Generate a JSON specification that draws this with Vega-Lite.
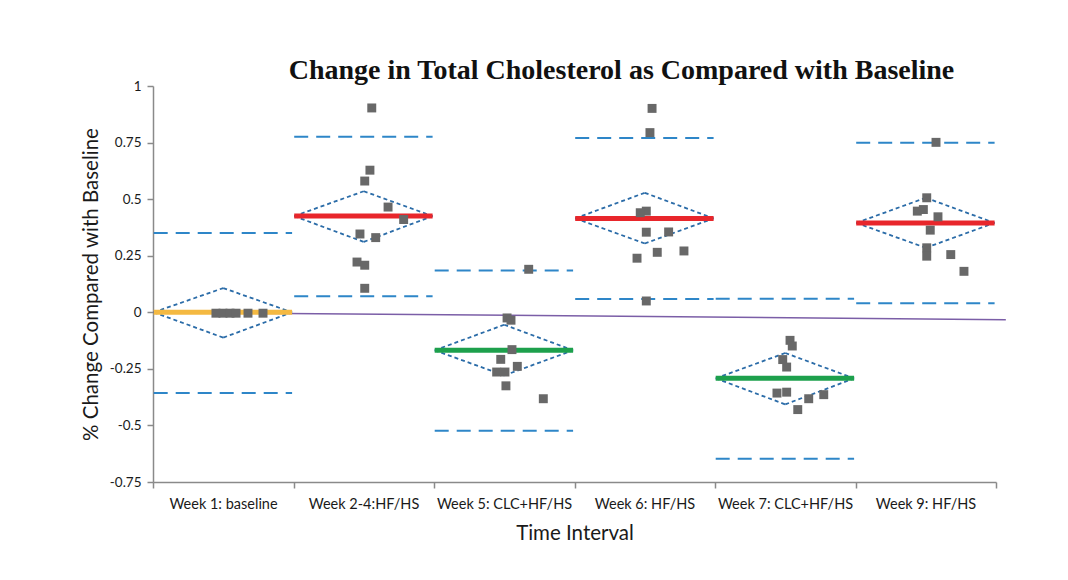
{
  "$schema": "https://vega.github.io/schema/vega-lite/v6.json",
  "width": 843,
  "height": 396,
  "autosize": {"type": "none"},
  "padding": {"left": 153, "top": 86, "right": 72, "bottom": 98},
  "background": "white",
  "config": {"view": {"stroke": null}, "font": "Lato"},
  "title": {
    "text": "Change in Total Cholesterol as Compared with Baseline",
    "font": "Liberation Serif",
    "fontSize": 28,
    "fontWeight": "bold",
    "color": "#111111",
    "anchor": "middle",
    "frame": "group",
    "dx": 47,
    "dy": 36,
    "offset": 8,
    "baseline": "alphabetic"
  },
  "datasets": {
    "stats": [
      {"week": "Week 1: baseline", "xs": 0.005, "xc": 0.5, "xe": 0.99, "mean": 0, "hi": 0.107, "lo": -0.112, "ucl": 0.35, "lcl": -0.357, "kind": "baseline"},
      {"week": "Week 2-4:HF/HS", "xs": 1.005, "xc": 1.5, "xe": 1.99, "mean": 0.425, "hi": 0.535, "lo": 0.311, "ucl": 0.776, "lcl": 0.071, "kind": "HF/HS"},
      {"week": "Week 5: CLC+HF/HS", "xs": 2.005, "xc": 2.5, "xe": 2.99, "mean": -0.168, "hi": -0.055, "lo": -0.279, "ucl": 0.185, "lcl": -0.523, "kind": "CLC+HF/HS"},
      {"week": "Week 6: HF/HS", "xs": 3.005, "xc": 3.5, "xe": 3.99, "mean": 0.415, "hi": 0.528, "lo": 0.304, "ucl": 0.77, "lcl": 0.059, "kind": "HF/HS"},
      {"week": "Week 7: CLC+HF/HS", "xs": 4.005, "xc": 4.5, "xe": 4.99, "mean": -0.292, "hi": -0.18, "lo": -0.407, "ucl": 0.06, "lcl": -0.647, "kind": "CLC+HF/HS"},
      {"week": "Week 9: HF/HS", "xs": 5.005, "xc": 5.5, "xe": 5.99, "mean": 0.395, "hi": 0.506, "lo": 0.285, "ucl": 0.749, "lcl": 0.04, "kind": "HF/HS"}
    ],
    "trend": [
      {"xa": 0, "ya": 0, "xb": 6.07, "yb": -0.0325}
    ],
    "points": [
      {"week": "Week 1: baseline", "x": 0.448, "value": -0.004},
      {"week": "Week 1: baseline", "x": 0.498, "value": -0.004},
      {"week": "Week 1: baseline", "x": 0.548, "value": -0.004},
      {"week": "Week 1: baseline", "x": 0.591, "value": -0.004},
      {"week": "Week 1: baseline", "x": 0.676, "value": -0.004},
      {"week": "Week 1: baseline", "x": 0.783, "value": -0.004},
      {"week": "Week 2-4:HF/HS", "x": 1.557, "value": 0.903},
      {"week": "Week 2-4:HF/HS", "x": 1.544, "value": 0.628},
      {"week": "Week 2-4:HF/HS", "x": 1.507, "value": 0.58},
      {"week": "Week 2-4:HF/HS", "x": 1.673, "value": 0.465},
      {"week": "Week 2-4:HF/HS", "x": 1.784, "value": 0.41},
      {"week": "Week 2-4:HF/HS", "x": 1.473, "value": 0.346},
      {"week": "Week 2-4:HF/HS", "x": 1.585, "value": 0.33},
      {"week": "Week 2-4:HF/HS", "x": 1.452, "value": 0.222},
      {"week": "Week 2-4:HF/HS", "x": 1.507, "value": 0.208},
      {"week": "Week 2-4:HF/HS", "x": 1.507, "value": 0.106},
      {"week": "Week 5: CLC+HF/HS", "x": 2.674, "value": 0.19},
      {"week": "Week 5: CLC+HF/HS", "x": 2.52, "value": -0.025},
      {"week": "Week 5: CLC+HF/HS", "x": 2.548, "value": -0.035},
      {"week": "Week 5: CLC+HF/HS", "x": 2.555, "value": -0.165},
      {"week": "Week 5: CLC+HF/HS", "x": 2.475, "value": -0.208},
      {"week": "Week 5: CLC+HF/HS", "x": 2.593, "value": -0.239},
      {"week": "Week 5: CLC+HF/HS", "x": 2.446, "value": -0.264},
      {"week": "Week 5: CLC+HF/HS", "x": 2.505, "value": -0.264},
      {"week": "Week 5: CLC+HF/HS", "x": 2.512, "value": -0.325},
      {"week": "Week 5: CLC+HF/HS", "x": 2.778, "value": -0.382},
      {"week": "Week 6: HF/HS", "x": 3.552, "value": 0.901},
      {"week": "Week 6: HF/HS", "x": 3.537, "value": 0.794},
      {"week": "Week 6: HF/HS", "x": 3.511, "value": 0.447},
      {"week": "Week 6: HF/HS", "x": 3.468, "value": 0.44},
      {"week": "Week 6: HF/HS", "x": 3.511, "value": 0.354},
      {"week": "Week 6: HF/HS", "x": 3.67, "value": 0.355},
      {"week": "Week 6: HF/HS", "x": 3.589, "value": 0.265},
      {"week": "Week 6: HF/HS", "x": 3.779, "value": 0.271},
      {"week": "Week 6: HF/HS", "x": 3.445, "value": 0.239},
      {"week": "Week 6: HF/HS", "x": 3.511, "value": 0.05},
      {"week": "Week 7: CLC+HF/HS", "x": 4.534, "value": -0.124},
      {"week": "Week 7: CLC+HF/HS", "x": 4.55, "value": -0.149},
      {"week": "Week 7: CLC+HF/HS", "x": 4.482, "value": -0.209},
      {"week": "Week 7: CLC+HF/HS", "x": 4.51, "value": -0.242},
      {"week": "Week 7: CLC+HF/HS", "x": 4.441, "value": -0.357},
      {"week": "Week 7: CLC+HF/HS", "x": 4.51, "value": -0.353},
      {"week": "Week 7: CLC+HF/HS", "x": 4.667, "value": -0.382},
      {"week": "Week 7: CLC+HF/HS", "x": 4.774, "value": -0.364},
      {"week": "Week 7: CLC+HF/HS", "x": 4.589, "value": -0.43},
      {"week": "Week 9: HF/HS", "x": 5.573, "value": 0.751},
      {"week": "Week 9: HF/HS", "x": 5.507, "value": 0.506},
      {"week": "Week 9: HF/HS", "x": 5.483, "value": 0.454},
      {"week": "Week 9: HF/HS", "x": 5.44, "value": 0.447},
      {"week": "Week 9: HF/HS", "x": 5.587, "value": 0.422},
      {"week": "Week 9: HF/HS", "x": 5.532, "value": 0.363},
      {"week": "Week 9: HF/HS", "x": 5.507, "value": 0.285},
      {"week": "Week 9: HF/HS", "x": 5.507, "value": 0.248},
      {"week": "Week 9: HF/HS", "x": 5.678, "value": 0.255},
      {"week": "Week 9: HF/HS", "x": 5.772, "value": 0.181}
    ]
  },
  "encoding": {
    "x": {
      "type": "quantitative",
      "title": "Time Interval",
      "scale": {"domain": [0, 6], "nice": false, "zero": false},
      "axis": {
        "values": [0, 1, 2, 3, 4, 5, 6],
        "labelExpr": "['Week 1: baseline','Week 2-4:HF/HS','Week 5: CLC+HF/HS','Week 6: HF/HS','Week 7: CLC+HF/HS','Week 9: HF/HS',''][datum.value]",
        "labelOffset": 70,
        "labelAlign": "center",
        "labelFontSize": 14.5,
        "labelColor": "#1a1a1a",
        "labelPadding": 9,
        "labelFlush": false,
        "labelOverlap": false,
        "labelBound": false,
        "tickSize": 6,
        "tickColor": "#8a8a8a",
        "tickWidth": 1.5,
        "domainColor": "#8a8a8a",
        "domainWidth": 1.5,
        "grid": false,
        "titleFontSize": 20.5,
        "titleFontWeight": "normal",
        "titleColor": "#1a1a1a",
        "titlePadding": 13
      }
    },
    "y": {
      "type": "quantitative",
      "title": "% Change Compared with Baseline",
      "scale": {"domain": [-0.75, 1], "nice": false, "zero": false},
      "axis": {
        "values": [-0.75, -0.5, -0.25, 0, 0.25, 0.5, 0.75, 1],
        "labelExpr": "'' + datum.value",
        "labelFontSize": 13.5,
        "labelColor": "#1a1a1a",
        "labelPadding": 6,
        "tickSize": 6,
        "tickColor": "#8a8a8a",
        "tickWidth": 1.5,
        "domainColor": "#8a8a8a",
        "domainWidth": 1.5,
        "grid": false,
        "titleFontSize": 20.5,
        "titleFontWeight": "normal",
        "titleColor": "#1a1a1a",
        "titlePadding": 8
      }
    }
  },
  "layer": [
    {
      "data": {"name": "stats"},
      "mark": {"type": "rule", "stroke": "#2E86C8", "strokeWidth": 2, "strokeDash": [14, 8]},
      "encoding": {
        "x": {"field": "xs"},
        "x2": {"field": "xe"},
        "y": {"field": "ucl"}
      }
    },
    {
      "data": {"name": "stats"},
      "mark": {"type": "rule", "stroke": "#2E86C8", "strokeWidth": 2, "strokeDash": [14, 8]},
      "encoding": {
        "x": {"field": "xs"},
        "x2": {"field": "xe"},
        "y": {"field": "lcl"}
      }
    },
    {
      "data": {"name": "trend"},
      "mark": {"type": "rule", "stroke": "#7B5EA7", "strokeWidth": 1.5, "clip": false},
      "encoding": {
        "x": {"field": "xa"},
        "x2": {"field": "xb"},
        "y": {"field": "ya"},
        "y2": {"field": "yb"}
      }
    },
    {
      "data": {"name": "stats"},
      "mark": {"type": "rule", "stroke": "#2B6CA8", "strokeWidth": 1.8, "strokeDash": [4, 3]},
      "encoding": {
        "x": {"field": "xs"},
        "x2": {"field": "xc"},
        "y": {"field": "mean"},
        "y2": {"field": "hi"}
      }
    },
    {
      "data": {"name": "stats"},
      "mark": {"type": "rule", "stroke": "#2B6CA8", "strokeWidth": 1.8, "strokeDash": [4, 3]},
      "encoding": {
        "x": {"field": "xc"},
        "x2": {"field": "xe"},
        "y": {"field": "hi"},
        "y2": {"field": "mean"}
      }
    },
    {
      "data": {"name": "stats"},
      "mark": {"type": "rule", "stroke": "#2B6CA8", "strokeWidth": 1.8, "strokeDash": [4, 3]},
      "encoding": {
        "x": {"field": "xs"},
        "x2": {"field": "xc"},
        "y": {"field": "mean"},
        "y2": {"field": "lo"}
      }
    },
    {
      "data": {"name": "stats"},
      "mark": {"type": "rule", "stroke": "#2B6CA8", "strokeWidth": 1.8, "strokeDash": [4, 3]},
      "encoding": {
        "x": {"field": "xc"},
        "x2": {"field": "xe"},
        "y": {"field": "lo"},
        "y2": {"field": "mean"}
      }
    },
    {
      "data": {"name": "stats"},
      "mark": {"type": "rule", "strokeWidth": 5},
      "encoding": {
        "x": {"field": "xs"},
        "x2": {"field": "xe"},
        "y": {"field": "mean"},
        "color": {
          "field": "kind", "type": "nominal",
          "scale": {"domain": ["baseline", "HF/HS", "CLC+HF/HS"], "range": ["#F4B942", "#E8262B", "#1DA04C"]},
          "legend": null
        }
      }
    },
    {
      "data": {"name": "points"},
      "mark": {"type": "square", "size": 80, "color": "#686868", "opacity": 1},
      "encoding": {
        "x": {"field": "x"},
        "y": {"field": "value"}
      }
    }
  ]
}
